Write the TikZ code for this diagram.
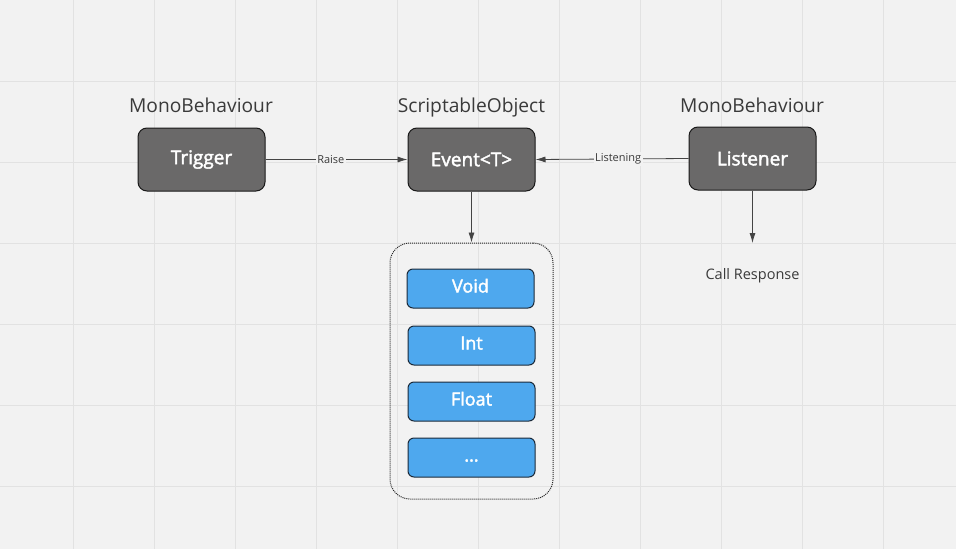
\documentclass[tikz,border=0pt]{standalone}
\usepackage{fontspec}
\setmainfont{Open Sans}
\newfontfamily\semibold[FakeBold=2.2]{Open Sans}
\usetikzlibrary{arrows.meta}
\definecolor{bg}{HTML}{F2F2F2}
\definecolor{gridc}{HTML}{E2E2E2}
\definecolor{darkbox}{HTML}{6A6969}
\definecolor{bluebox}{HTML}{4EA8EE}
\definecolor{blueedge}{HTML}{1B2A3A}
\definecolor{txt}{HTML}{3A3A3A}
\definecolor{linec}{HTML}{444444}
\begin{document}
\begin{tikzpicture}[x=1pt,y=-1pt,
  darknode/.style={draw=black!90, line width=1pt, fill=darkbox, rounded corners=9pt,
    minimum width=127pt, minimum height=63pt, inner sep=0pt, text=white,
    font=\semibold\fontsize{19}{21}\selectfont},
  bluenode/.style={draw=blueedge, line width=1pt, fill=bluebox, rounded corners=6pt,
    minimum width=127pt, minimum height=39pt, inner sep=0pt, text=white,
    text height=13pt, text depth=5pt,
    font=\semibold\fontsize{18}{20}\selectfont},
  header/.style={text=txt, text height=14pt, text depth=4pt, font=\fontsize{19.2}{22}\selectfont},
  plain/.style={text=txt, font=\fontsize{14.5}{17}\selectfont},
  elabel/.style={fill=bg, inner sep=1.5pt, text=txt, font=\fontsize{11}{13}\selectfont},
  conn/.style={draw=linec, line width=0.8pt, -{Latex[length=10pt,width=6pt]}},
  container/.style={draw=black!85, line width=1pt, dash pattern=on 1pt off 1pt,
    rounded corners=20pt, minimum width=163pt, minimum height=256pt, inner sep=0pt}
]
\fill[bg] (0,0) rectangle (956,549);
\useasboundingbox (0,0) rectangle (956,549);
\foreach \gx in {73,154,...,960} {\draw[gridc, line width=1pt] (\gx,0) -- (\gx,549);}
\foreach \gy in {81,162,...,549} {\draw[gridc, line width=1pt] (0,\gy) -- (956,\gy);}

\node[header] (h1) at (201,107) {MonoBehaviour};
\node[header] (h2) at (471.5,107) {ScriptableObject};
\node[header] (h3) at (752,107) {MonoBehaviour};

\node[darknode] (trigger) at (201.5,159.5) {Trigger};
\node[darknode] (event) at (471.5,159.5) {Event<T>};
\node[darknode] (listener) at (752.5,158.5) {Listener};

\node[container] (box) at (471.5,371) {};
\node[bluenode] (void) at (470.5,288.5) {Void};
\node[bluenode] (int) at (471.5,345.5) {Int};
\node[bluenode] (float) at (471.5,401.5) {Float};
\node[bluenode] (etc) at (471.5,457.5) {...};

\coordinate (resp) at (752.5,243);
\node[plain] (call) at (752.5,276) {Call Response};

\draw[conn] (trigger.east) -- node[elabel, pos=0.46] {Raise} (event.west);
\draw[conn] (listener.west) -- node[elabel, pos=0.46] {Listening} (event.east);
\draw[conn] (event.south) -- (box.north);
\draw[conn] (listener.south) -- (resp);
\end{tikzpicture}
\end{document}
